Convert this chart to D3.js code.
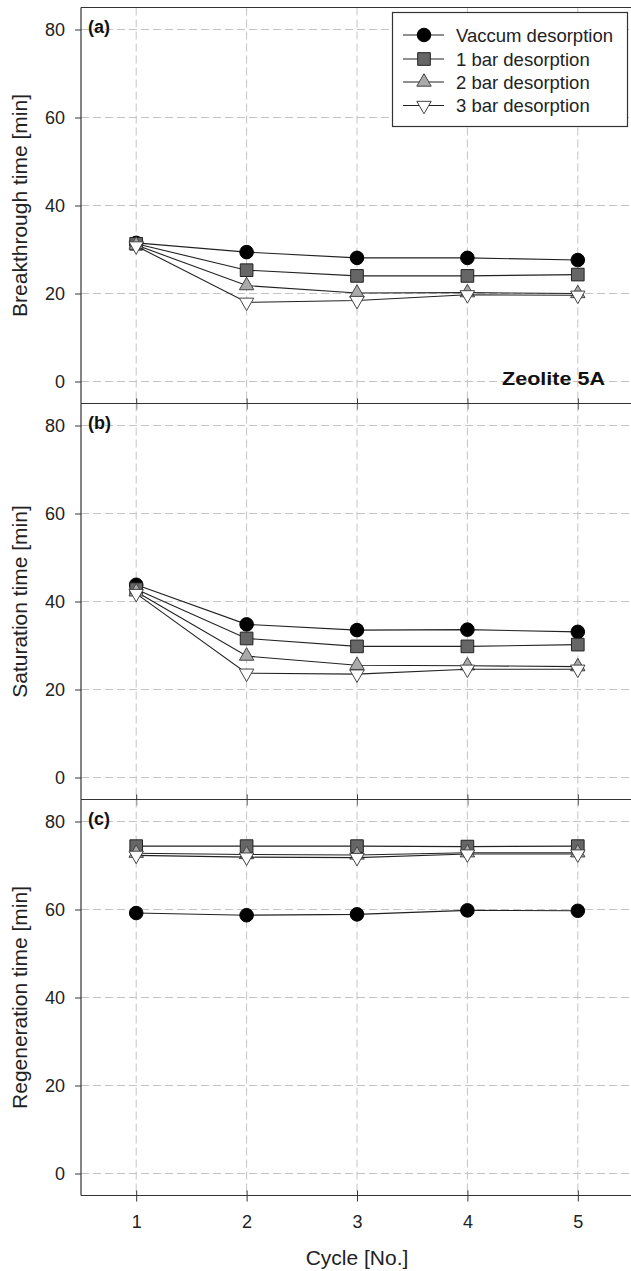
<!DOCTYPE html>
<html>
<head>
<meta charset="utf-8">
<script src="https://cdn.jsdelivr.net/npm/d3@7"></script>
<style>
  body { margin: 0; background: #fff; }
  svg { display: block; font-family: "Liberation Sans", Arial, sans-serif; }
</style>
</head>
<body>
<svg id="chart"></svg>
<script>
// data
var cycles = [1, 2, 3, 4, 5];
var seriesNames = ["Vaccum desorption", "1 bar desorption", "2 bar desorption", "3 bar desorption"];
var yTicks = [0, 20, 40, 60, 80];

// (a) breakthrough time
var vacA  = [31.5, 29.4, 28.1, 28.1, 27.6];
var bar1A = [31.3, 25.3, 24.0, 24.0, 24.3];
var bar2A = [31.0, 21.8, 20.1, 20.2, 20.0];
var bar3A = [30.8, 18.0, 18.4, 19.7, 19.6];

// (b) saturation time
var vacB  = [43.8, 34.8, 33.5, 33.6, 33.1];
var bar1B = [42.8, 31.6, 29.8, 29.8, 30.2];
var bar2B = [42.2, 27.6, 25.5, 25.4, 25.2];
var bar3B = [41.8, 23.7, 23.5, 24.6, 24.6];

// (c) regeneration time
var vacC  = [59.2, 58.7, 58.9, 59.8, 59.7];
var bar1C = [74.4, 74.4, 74.4, 74.3, 74.4];
var bar2C = [72.8, 72.5, 72.4, 72.9, 72.9];
var bar3C = [72.3, 71.9, 71.8, 72.6, 72.6];

var panels = [
  {label: "(a)", title: "Breakthrough time [min]", series: [vacA, bar1A, bar2A, bar3A]},
  {label: "(b)", title: "Saturation time [min]",   series: [vacB, bar1B, bar2B, bar3B]},
  {label: "(c)", title: "Regeneration time [min]", series: [vacC, bar1C, bar2C, bar3C]}
];

var W = 631, H = 1271;
var left = 81, right = 633, top0 = 7.5, panelH = 396;
var frameCol = "#333", gridCol = "#c4c4c4";

var svg = d3.select("#chart").attr("width", W).attr("height", H);

var x = d3.scaleLinear().domain([0.5, 5.5]).range([left, right]);

var styles = [
  {type: d3.symbolCircle,   size: 145, fill: "#000",    stroke: "#000", rot: 0},
  {type: d3.symbolSquare,   size: 160, fill: "#666",    stroke: "#222", rot: 0},
  {type: d3.symbolTriangle, size: 90,  fill: "#aaa",    stroke: "#444", rot: 0},
  {type: d3.symbolTriangle, size: 90,  fill: "#fff",    stroke: "#444", rot: 180}
];

function marker(g, st, cx, cy) {
  g.append("path")
    .attr("d", d3.symbol().type(st.type).size(st.size)())
    .attr("transform", "translate(" + cx + "," + cy + ") rotate(" + st.rot + ")")
    .attr("fill", st.fill)
    .attr("stroke", st.stroke)
    .attr("stroke-width", 1);
}

panels.forEach(function(p, pi) {
  var top = top0 + pi * panelH, bottom = top + panelH;
  var y = d3.scaleLinear().domain([-5, 85]).range([bottom, top]);
  var g = svg.append("g");

  // dashed grid
  g.selectAll(".hg").data(yTicks).enter().append("line")
    .attr("x1", left).attr("x2", right)
    .attr("y1", d => y(d)).attr("y2", d => y(d))
    .attr("stroke", gridCol).attr("stroke-dasharray", "8,4");
  g.selectAll(".vg").data(cycles).enter().append("line")
    .attr("x1", d => x(d)).attr("x2", d => x(d))
    .attr("y1", top).attr("y2", bottom)
    .attr("stroke", gridCol).attr("stroke-dasharray", "8,4");

  // y axis
  var ya = g.append("g").attr("transform", "translate(" + left + ",0)")
    .call(d3.axisLeft(y).tickValues(yTicks).tickSize(6).tickPadding(10));
  ya.select(".domain").remove();
  ya.selectAll("line").attr("stroke", frameCol);
  ya.selectAll("text").attr("font-size", 18).attr("fill", "#222")
    .attr("font-family", "Liberation Sans, Arial, sans-serif");

  // x ticks crossing the bottom frame line
  var xb = g.append("g").attr("transform", "translate(0," + bottom + ")")
    .call(d3.axisBottom(x).tickValues(cycles).tickSize(6).tickPadding(14)
      .tickFormat(pi === 2 ? d3.format("d") : () => ""));
  xb.select(".domain").remove();
  xb.selectAll("line").attr("stroke", frameCol);
  xb.selectAll("text").attr("font-size", 18).attr("fill", "#222")
    .attr("font-family", "Liberation Sans, Arial, sans-serif");
  var xt = g.append("g").attr("transform", "translate(0," + bottom + ")")
    .call(d3.axisTop(x).tickValues(cycles).tickSize(5).tickFormat(() => ""));
  xt.select(".domain").remove();
  xt.selectAll("line").attr("stroke", frameCol);

  // frame
  g.append("line").attr("x1", left).attr("x2", right).attr("y1", top).attr("y2", top)
    .attr("stroke", frameCol).attr("stroke-width", 1.2);
  g.append("line").attr("x1", left).attr("x2", right).attr("y1", bottom).attr("y2", bottom)
    .attr("stroke", frameCol).attr("stroke-width", 1.2);
  g.append("line").attr("x1", left).attr("x2", left).attr("y1", top).attr("y2", bottom)
    .attr("stroke", frameCol).attr("stroke-width", 1.2);

  // series
  var line = d3.line().x((d, i) => x(cycles[i])).y(d => y(d));
  p.series.forEach(function(vals, si) {
    g.append("path").attr("d", line(vals))
      .attr("fill", "none").attr("stroke", "#222").attr("stroke-width", 1.1);
    vals.forEach(function(v, i) { marker(g, styles[si], x(cycles[i]), y(v)); });
  });

  // panel label
  g.append("text").attr("x", 88).attr("y", top + 25.5)
    .attr("font-size", 18).attr("font-weight", "bold").attr("fill", "#111")
    .text(p.label);

  // y title
  g.append("text")
    .attr("transform", "translate(27," + (top + panelH / 2) + ") rotate(-90)")
    .attr("text-anchor", "middle").attr("font-size", 21).attr("fill", "#222")
    .text(p.title);
});

// Zeolite 5A note
svg.append("text").attr("x", 502).attr("y", 385)
  .attr("font-size", 19).attr("font-weight", "bold").attr("fill", "#111")
  .attr("textLength", 103).attr("lengthAdjust", "spacingAndGlyphs")
  .text("Zeolite 5A");

// x title
svg.append("text").attr("x", (left + right) / 2).attr("y", 1265)
  .attr("text-anchor", "middle").attr("font-size", 21).attr("fill", "#222")
  .text("Cycle [No.]");

// legend
var lg = svg.append("g");
lg.append("rect").attr("x", 392.5).attr("y", 12.5).attr("width", 235).attr("height", 114)
  .attr("fill", "#fff").attr("stroke", frameCol).attr("stroke-width", 1.2);
var rowY = [35, 59, 82, 105.5];
seriesNames.forEach(function(name, i) {
  lg.append("line").attr("x1", 403).attr("x2", 444).attr("y1", rowY[i]).attr("y2", rowY[i])
    .attr("stroke", "#222").attr("stroke-width", 1.1);
  marker(lg, styles[i], 424, rowY[i]);
  lg.append("text").attr("x", 456).attr("y", rowY[i] + 6.5)
    .attr("font-size", 18.5).attr("fill", "#222").text(name);
});
</script>
</body>
</html>
